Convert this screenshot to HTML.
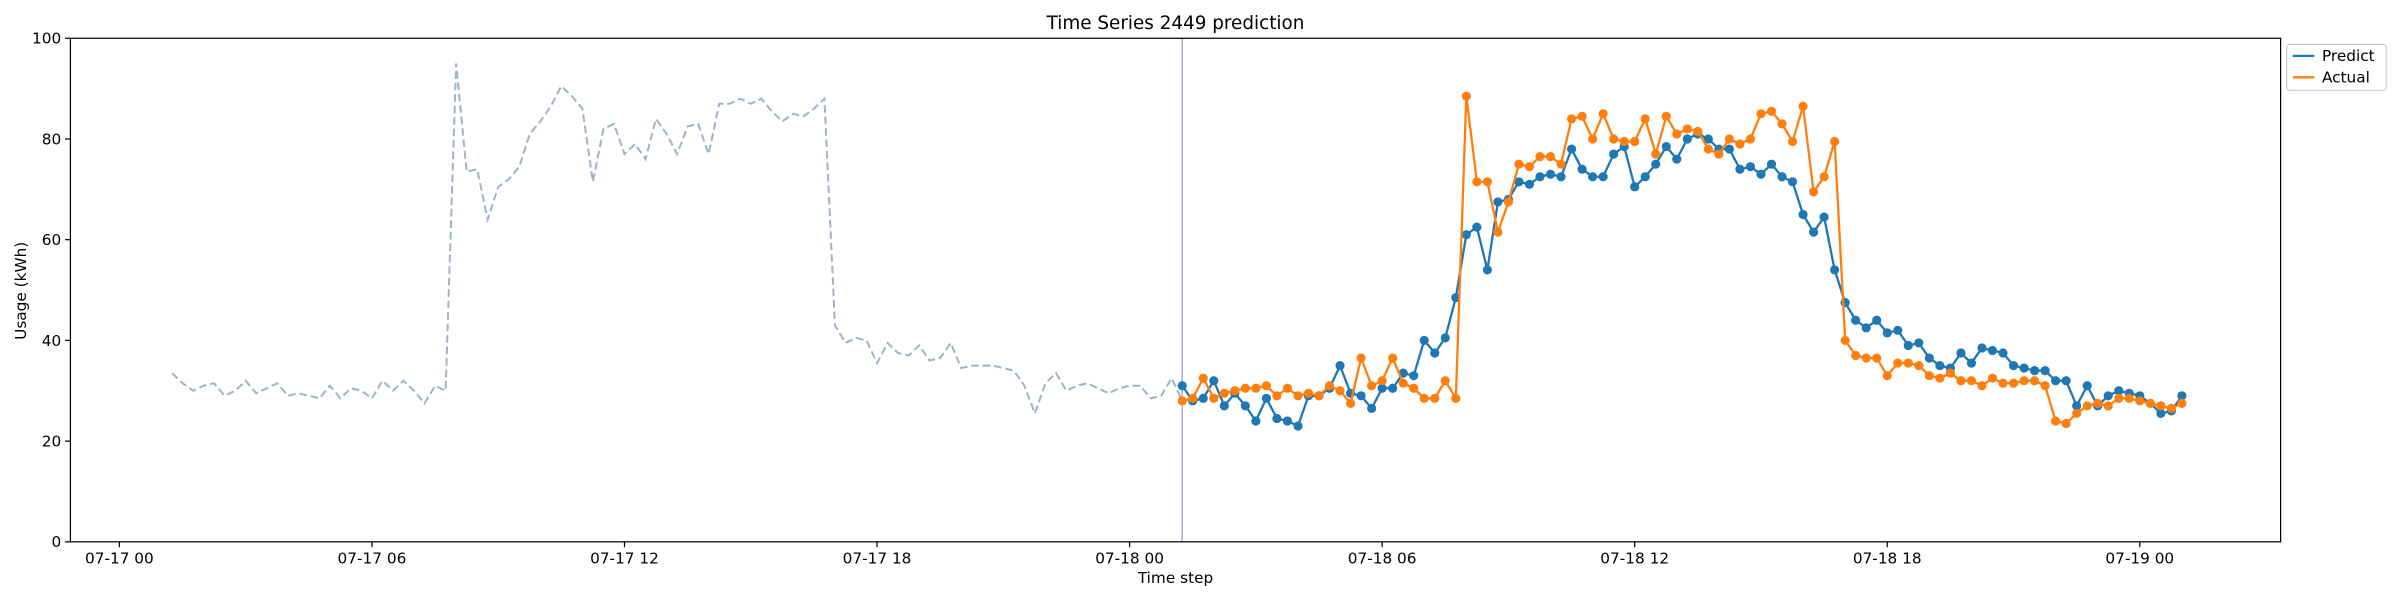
<!DOCTYPE html>
<html><head><meta charset="utf-8"><style>
html,body{margin:0;padding:0;background:#fff;}
svg{display:block;font-family:"DejaVu Sans","Liberation Sans",sans-serif;}
</style></head><body>
<svg id="chart" width="2400" height="600" viewBox="0 0 1568 392" xmlns="http://www.w3.org/2000/svg">
<rect x="0" y="0" width="1568" height="392" fill="#fff"/>
<text x="768" y="19" font-size="12" text-anchor="middle">Time Series 2449 prediction</text>
<g id="plot"></g>
<rect x="46" y="25" width="1444" height="329" fill="none" stroke="#000" stroke-width="0.8"/>
<g id="ticks"></g>
<text x="768" y="381" font-size="10" text-anchor="middle">Time step</text>
<text x="17" y="190" font-size="10" text-anchor="middle" transform="rotate(-90 17 190)">Usage (kWh)</text>
<g>
<rect x="1494" y="29" width="65" height="30" rx="2" fill="#fff" stroke="#ccc" stroke-width="0.8"/>
<line x1="1498" y1="36.5" x2="1512" y2="36.5" stroke="#1f77b4" stroke-width="1.5"/>
<text x="1517" y="40" font-size="10">Predict</text>
<line x1="1498" y1="50.5" x2="1512" y2="50.5" stroke="#ff7f0e" stroke-width="1.5"/>
<text x="1517" y="54" font-size="10">Actual</text>
</g>
</svg>
<script>
const historyValues=[33.5,31.5,30,31,31.5,29,30,32,29.5,30.5,31.5,29,29.5,29,28.5,31,28.5,30.5,30,28.5,32,30,32,30,27.5,31,30,
95,73.5,74,64,70.5,72,74.5,81,83.5,86.5,90.5,88.5,86,71.5,82,83,77,79,76,84,81,77,82.5,83,77,87,87,88,87,88,85.5,83.5,85,84.5,86,88,
43,39.5,40.5,40,35.5,39.5,37.5,37,39,36,36.5,39.5,34.5,35,35,35,34.5,34,31,25.5,31.5,33.5,30,31,31.5,30.5,29.5,30.5,31,31,28.5,29,32.5,28];
const predictValues=[31,28,28.5,32,27,29.5,27,24,28.5,24.5,24,23,29,29,30.5,35,29.5,29,26.5,30.5,30.5,33.5,33,40,37.5,40.5,48.5,61,62.5,54,67.5,68,71.5,71,72.5,73,72.5,78,74,72.5,72.5,77,78.5,70.5,72.5,75,78.5,76,80,81,80,78,78,74,74.5,73,75,72.5,71.5,65,61.5,64.5,54,47.5,44,42.5,44,41.5,42,39,39.5,36.5,35,34.5,37.5,35.5,38.5,38,37.5,35,34.5,34,34,32,32,27,31,27,29,30,29.5,29,27.5,25.5,26,29];
const actualValues=[28,28.5,32.5,28.5,29.5,30,30.5,30.5,31,29,30.5,29,29.5,29,31,30,27.5,36.5,31,32,36.5,31.5,30.5,28.5,28.5,32,28.5,88.5,71.5,71.5,61.5,67.5,75,74.5,76.5,76.5,75,84,84.5,80,85,80,79.5,79.5,84,77,84.5,81,82,81.5,78,77,80,79,80,85,85.5,83,79.5,86.5,69.5,72.5,79.5,40,37,36.5,36.5,33,35.5,35.5,35,33,32.5,33.5,32,32,31,32.5,31.5,31.5,32,32,31,24,23.5,25.5,27,27.5,27,28.5,28.5,28,27.5,27,26.5,27.5];
const xTickLabels=["07-17 00","07-17 06","07-17 12","07-17 18","07-18 00","07-18 06","07-18 12","07-18 18","07-19 00"];
const yTickLabels=["0","20","40","60","80","100"];
const historyStartHour=1.25, forecastStartHour=25.25, stepHours=0.25;

const NS="http://www.w3.org/2000/svg";
const X=h=>78+h*27.5;
const Y=v=>354-v*3.29;
const plot=document.getElementById('plot'), ticks=document.getElementById('ticks');
function mk(tag,attrs,parent){const e=document.createElementNS(NS,tag);for(const k in attrs)e.setAttribute(k,attrs[k]);parent.appendChild(e);return e;}
function pts(vals,start){return vals.map((v,i)=>X(start+i*stepHours).toFixed(2)+','+Y(v).toFixed(2)).join(' ');}

const h=mk('polyline',{points:pts(historyValues,historyStartHour),fill:'none',stroke:'#9fb2ca','stroke-width':1.3,'stroke-dasharray':'5,2.5'},plot);


const vl=mk('line',{x1:X(forecastStartHour),x2:X(forecastStartHour),y1:25,y2:354,stroke:'#a4b0d2','stroke-width':1},plot);



function series(vals,color,name){
  const g=mk('g',{},plot);
  
  
  mk('polyline',{points:pts(vals,forecastStartHour),fill:'none',stroke:color,'stroke-width':1.5},g);
  vals.forEach((v,i)=>{
    const c=mk('circle',{cx:X(forecastStartHour+i*stepHours),cy:Y(v),r:3,fill:color},g);
    
    
  });
}
series(predictValues,'#1f77b4','predict');
series(actualValues,'#ff7f0e','actual');

xTickLabels.forEach((t,i)=>{
  const x=X(i*6);
  mk('line',{x1:x,x2:x,y1:354,y2:357.5,stroke:'#000','stroke-width':0.8},ticks);
  const tx=mk('text',{x:x,y:368,'font-size':10,'text-anchor':'middle'},ticks);
  tx.textContent=t;
  
  
});
yTickLabels.forEach((t,i)=>{
  const y=Y(Number(t));
  mk('line',{x1:42.5,x2:46,y1:y,y2:y,stroke:'#000','stroke-width':0.8},ticks);
  const tx=mk('text',{x:40,y:y+3.5,'font-size':10,'text-anchor':'end'},ticks);
  tx.textContent=t;
  
  
});
</script>
</body></html>
